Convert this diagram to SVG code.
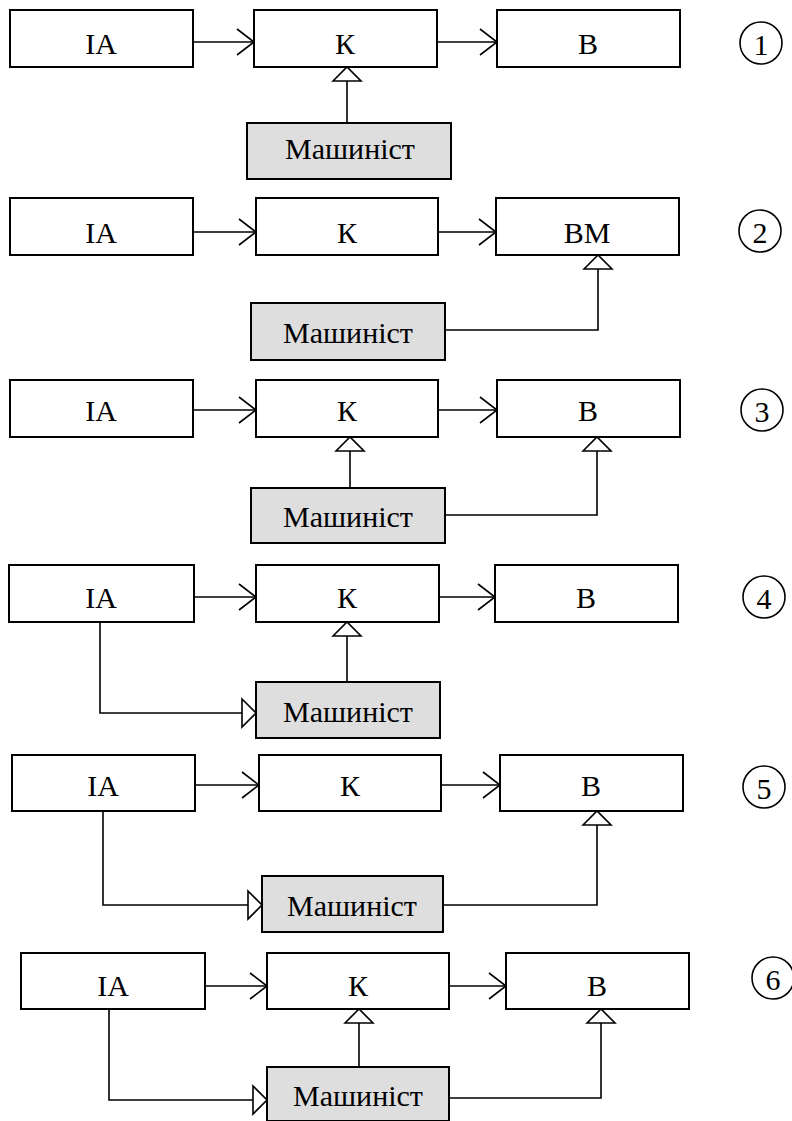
<svg xmlns="http://www.w3.org/2000/svg" width="792" height="1121" viewBox="0 0 792 1121">
  <style>
    .box { fill: #ffffff; stroke: #000000; stroke-width: 2; }
    .op { fill: #dedede; stroke: #000000; stroke-width: 2; }
    .lbl { font-family: "Liberation Serif", "Times New Roman", serif; font-size: 30px; fill: #000000; text-anchor: middle; dominant-baseline: central; }
    .wire { fill: none; stroke: #000000; stroke-width: 1.6; }
    .num { fill: none; stroke: #000000; stroke-width: 1.6; }
  </style>
  <defs>
    <!-- open "V" head for signal flow between blocks -->
    <marker id="vHead" markerUnits="userSpaceOnUse" markerWidth="20" markerHeight="30" refX="18" refY="15" orient="auto" overflow="visible">
      <path d="M1,2 L18,15 L1,28" fill="none" stroke="#000000" stroke-width="1.6"/>
    </marker>
    <!-- hollow triangle head for control links -->
    <marker id="triHead" markerUnits="userSpaceOnUse" markerWidth="18" markerHeight="30" refX="15" refY="15" orient="auto" overflow="visible">
      <path d="M1,1 L15,15 L1,29 Z" fill="#ffffff" stroke="#000000" stroke-width="1.6"/>
    </marker>
  </defs>

  <!-- connectors -->
  <g id="connectors">
    <!-- scheme 1 -->
    <path class="wire" d="M193,42 H254" marker-end="url(#vHead)"/>
    <path class="wire" d="M437,42 H497" marker-end="url(#vHead)"/>
    <path class="wire" d="M347,123 V67" marker-end="url(#triHead)"/>
    <!-- scheme 2 -->
    <path class="wire" d="M193,232 H256" marker-end="url(#vHead)"/>
    <path class="wire" d="M438,232 H496" marker-end="url(#vHead)"/>
    <path class="wire" d="M445,330 H598 V255" marker-end="url(#triHead)"/>
    <!-- scheme 3 -->
    <path class="wire" d="M193,410 H256" marker-end="url(#vHead)"/>
    <path class="wire" d="M438,410 H497" marker-end="url(#vHead)"/>
    <path class="wire" d="M350,488 V437" marker-end="url(#triHead)"/>
    <path class="wire" d="M445,515 H597 V437" marker-end="url(#triHead)"/>
    <!-- scheme 4 -->
    <path class="wire" d="M194,597 H256" marker-end="url(#vHead)"/>
    <path class="wire" d="M439,597 H495" marker-end="url(#vHead)"/>
    <path class="wire" d="M100,622 V713 H256" marker-end="url(#triHead)"/>
    <path class="wire" d="M347,682 V622" marker-end="url(#triHead)"/>
    <!-- scheme 5 -->
    <path class="wire" d="M195,785 H259" marker-end="url(#vHead)"/>
    <path class="wire" d="M441,785 H500" marker-end="url(#vHead)"/>
    <path class="wire" d="M103,811 V905 H262" marker-end="url(#triHead)"/>
    <path class="wire" d="M443,905 H597 V811" marker-end="url(#triHead)"/>
    <!-- scheme 6 -->
    <path class="wire" d="M205,986 H267" marker-end="url(#vHead)"/>
    <path class="wire" d="M449,986 H506" marker-end="url(#vHead)"/>
    <path class="wire" d="M109,1009 V1100 H267" marker-end="url(#triHead)"/>
    <path class="wire" d="M359,1067 V1009" marker-end="url(#triHead)"/>
    <path class="wire" d="M449,1098 H601 V1009" marker-end="url(#triHead)"/>
  </g>

  <!-- scheme 1 -->
  <g id="s1-ia"><rect class="box" x="10" y="10" width="183" height="57"/><text class="lbl" x="101" y="43">ІА</text></g>
  <g id="s1-k"><rect class="box" x="254" y="10" width="183" height="57"/><text class="lbl" x="345" y="43">К</text></g>
  <g id="s1-b"><rect class="box" x="497" y="10" width="183" height="57"/><text class="lbl" x="588" y="43">В</text></g>
  <g id="s1-m"><rect class="op" x="247" y="123" width="204" height="56"/><text class="lbl" x="350" y="148">Машиніст</text></g>
  <g id="s1-n"><circle class="num" cx="761" cy="43" r="21"/><text class="lbl" x="761" y="44">1</text></g>

  <!-- scheme 2 -->
  <g id="s2-ia"><rect class="box" x="10" y="198" width="183" height="57"/><text class="lbl" x="101" y="232">ІА</text></g>
  <g id="s2-k"><rect class="box" x="256" y="198" width="182" height="57"/><text class="lbl" x="347" y="232">К</text></g>
  <g id="s2-vm"><rect class="box" x="496" y="198" width="183" height="57"/><text class="lbl" x="587" y="232">ВМ</text></g>
  <g id="s2-m"><rect class="op" x="251" y="303" width="194" height="57"/><text class="lbl" x="348" y="332">Машиніст</text></g>
  <g id="s2-n"><circle class="num" cx="760" cy="231" r="21"/><text class="lbl" x="760" y="232">2</text></g>

  <!-- scheme 3 -->
  <g id="s3-ia"><rect class="box" x="10" y="380" width="183" height="57"/><text class="lbl" x="101" y="410">ІА</text></g>
  <g id="s3-k"><rect class="box" x="256" y="380" width="182" height="57"/><text class="lbl" x="347" y="410">К</text></g>
  <g id="s3-b"><rect class="box" x="497" y="380" width="183" height="57"/><text class="lbl" x="588" y="410">В</text></g>
  <g id="s3-m"><rect class="op" x="251" y="488" width="194" height="55"/><text class="lbl" x="348" y="516">Машиніст</text></g>
  <g id="s3-n"><circle class="num" cx="762" cy="410" r="21"/><text class="lbl" x="762" y="411">3</text></g>

  <!-- scheme 4 -->
  <g id="s4-ia"><rect class="box" x="9" y="565" width="185" height="57"/><text class="lbl" x="101" y="597">ІА</text></g>
  <g id="s4-k"><rect class="box" x="256" y="565" width="183" height="57"/><text class="lbl" x="347" y="597">К</text></g>
  <g id="s4-b"><rect class="box" x="495" y="565" width="183" height="57"/><text class="lbl" x="586" y="597">В</text></g>
  <g id="s4-m"><rect class="op" x="256" y="682" width="184" height="56"/><text class="lbl" x="348" y="711">Машиніст</text></g>
  <g id="s4-n"><circle class="num" cx="764" cy="597" r="21"/><text class="lbl" x="764" y="598">4</text></g>

  <!-- scheme 5 -->
  <g id="s5-ia"><rect class="box" x="12" y="755" width="183" height="56"/><text class="lbl" x="103" y="785">ІА</text></g>
  <g id="s5-k"><rect class="box" x="259" y="755" width="182" height="56"/><text class="lbl" x="350" y="785">К</text></g>
  <g id="s5-b"><rect class="box" x="500" y="755" width="183" height="56"/><text class="lbl" x="591" y="785">В</text></g>
  <g id="s5-m"><rect class="op" x="262" y="876" width="181" height="56"/><text class="lbl" x="352" y="905">Машиніст</text></g>
  <g id="s5-n"><circle class="num" cx="764" cy="787" r="21"/><text class="lbl" x="764" y="788">5</text></g>

  <!-- scheme 6 -->
  <g id="s6-ia"><rect class="box" x="21" y="953" width="184" height="56"/><text class="lbl" x="113" y="985">ІА</text></g>
  <g id="s6-k"><rect class="box" x="267" y="953" width="182" height="56"/><text class="lbl" x="358" y="985">К</text></g>
  <g id="s6-b"><rect class="box" x="506" y="953" width="183" height="56"/><text class="lbl" x="597" y="985">В</text></g>
  <g id="s6-m"><rect class="op" x="267" y="1067" width="182" height="54"/><text class="lbl" x="358" y="1095">Машиніст</text></g>
  <g id="s6-n"><circle class="num" cx="773" cy="978" r="21"/><text class="lbl" x="773" y="979">6</text></g>
</svg>
